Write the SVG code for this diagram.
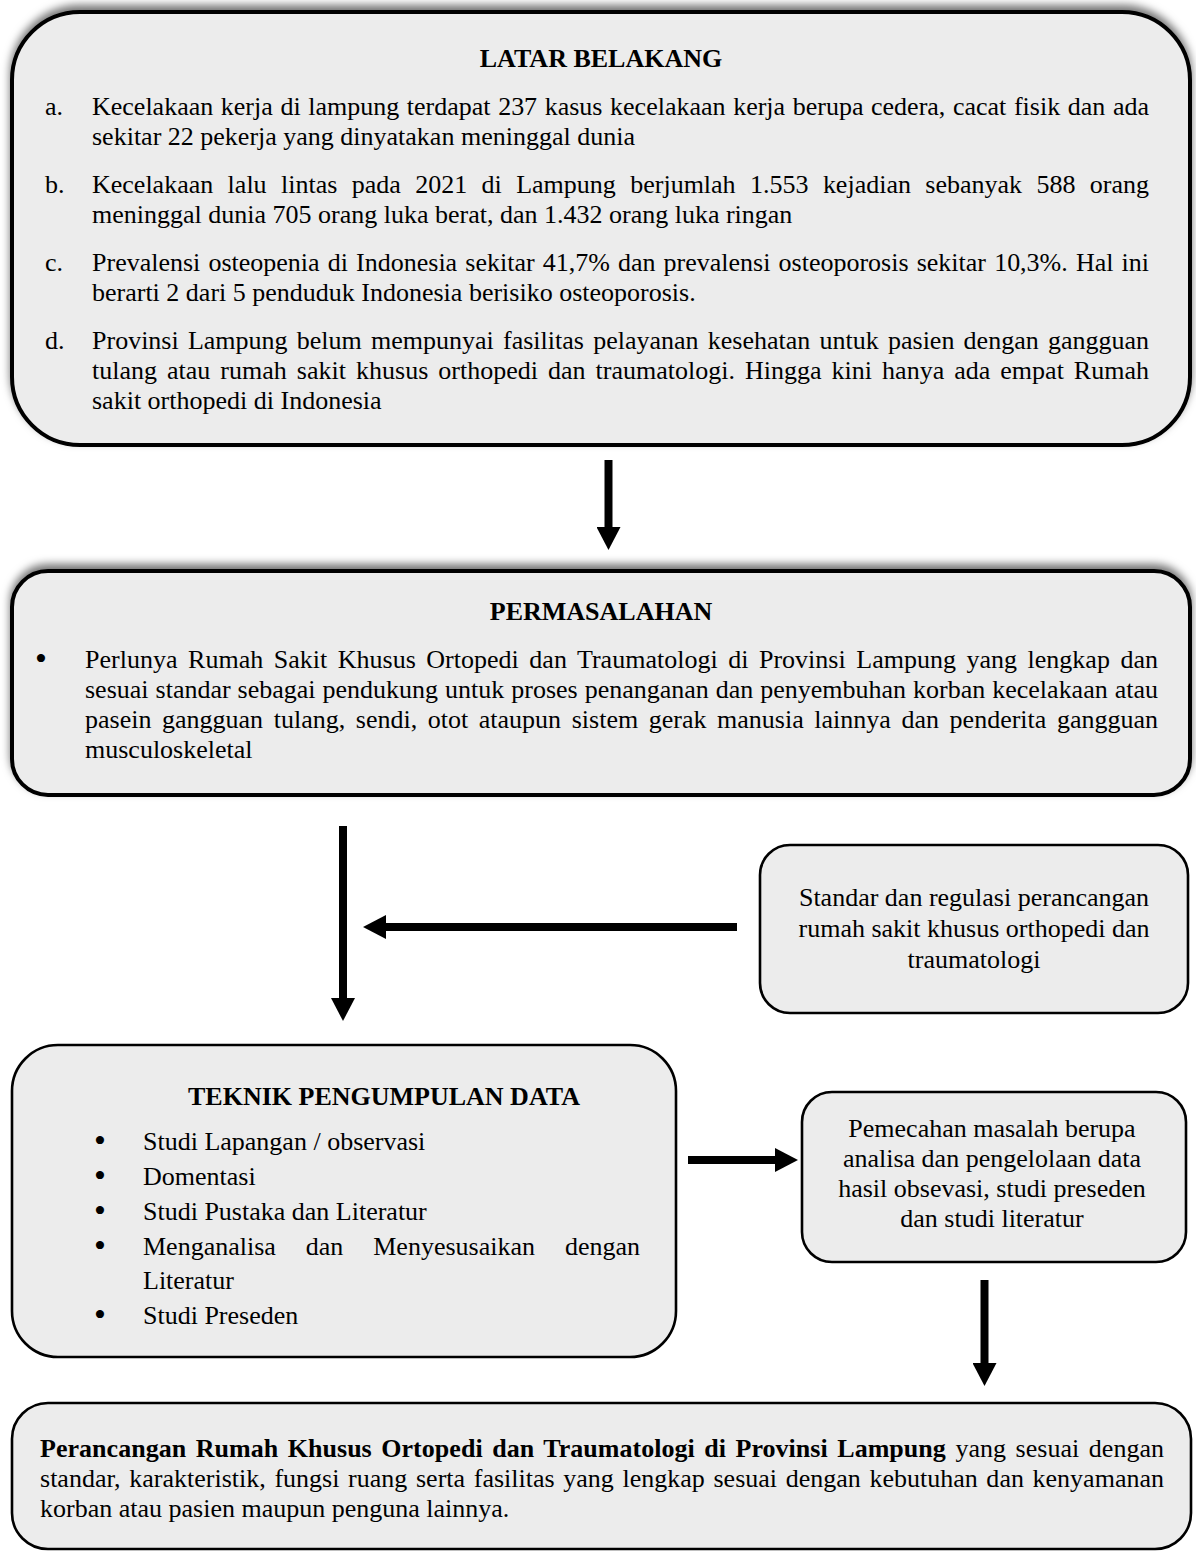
<svg xmlns="http://www.w3.org/2000/svg" width="1196" height="1553" viewBox="0 0 1196 1553">
  <style>
    .box { fill: #ececec; stroke: #000; }
    .heavy { stroke-width: 4; }
    .light { stroke-width: 2.6; }
    .t { font-family: "Liberation Serif", "Times New Roman", serif; font-size: 26px; fill: #000; }
    .b { font-weight: bold; }
    .c { text-anchor: middle; }
    .dot { font-family: "Liberation Serif", "Times New Roman", serif; font-size: 34px; fill: #000; text-anchor: middle; }
    .arrow { stroke: #000; stroke-width: 8; fill: none; }
  </style>
  <defs>
    <filter id="topShadow" x="-5%" y="-10%" width="110%" height="120%">
      <feDropShadow dx="0" dy="-5" stdDeviation="4" flood-color="#000" flood-opacity="0.55"/>
    </filter>
    <marker id="head" viewBox="0 0 23 24" refX="0" refY="12" markerWidth="23" markerHeight="24" markerUnits="userSpaceOnUse" orient="auto">
      <path d="M0,0 L23,12 L0,24 Z" fill="#000"/>
    </marker>
  </defs>

  <!-- Latar belakang -->
  <g id="latar-belakang">
    <rect class="box heavy" x="12" y="12" width="1178" height="433" rx="68" ry="68" filter="url(#topShadow)"/>
    <text class="t b c" x="601" y="67">LATAR BELAKANG</text>
    <text class="t" x="45" y="115">a.</text>
    <text class="t" x="92" y="115" word-spacing="1.1" textLength="1057" lengthAdjust="spacing">Kecelakaan kerja di lampung terdapat 237 kasus kecelakaan kerja berupa cedera, cacat fisik dan ada</text>
    <text class="t" x="92" y="145">sekitar 22 pekerja yang dinyatakan meninggal dunia</text>
    <text class="t" x="45" y="193">b.</text>
    <text class="t" x="92" y="193" word-spacing="7.9" textLength="1057" lengthAdjust="spacing">Kecelakaan lalu lintas pada 2021 di Lampung berjumlah 1.553 kejadian sebanyak 588 orang</text>
    <text class="t" x="92" y="223">meninggal dunia 705 orang luka berat, dan 1.432 orang luka ringan</text>
    <text class="t" x="45" y="271">c.</text>
    <text class="t" x="92" y="271" word-spacing="1.6" textLength="1057" lengthAdjust="spacing">Prevalensi osteopenia di Indonesia sekitar 41,7% dan prevalensi osteoporosis sekitar 10,3%. Hal ini</text>
    <text class="t" x="92" y="301">berarti 2 dari 5 penduduk Indonesia berisiko osteoporosis.</text>
    <text class="t" x="45" y="349">d.</text>
    <text class="t" x="92" y="349" word-spacing="2.7" textLength="1057" lengthAdjust="spacing">Provinsi Lampung belum mempunyai fasilitas pelayanan kesehatan untuk pasien dengan gangguan</text>
    <text class="t" x="92" y="379" word-spacing="3.5" textLength="1057" lengthAdjust="spacing">tulang atau rumah sakit khusus orthopedi dan traumatologi. Hingga kini hanya ada empat Rumah</text>
    <text class="t" x="92" y="409">sakit orthopedi di Indonesia</text>
  </g>

  <!-- Permasalahan -->
  <g id="permasalahan">
    <rect class="box heavy" x="12" y="571" width="1178" height="224" rx="36" ry="36" filter="url(#topShadow)"/>
    <text class="t b c" x="601" y="620">PERMASALAHAN</text>
    <text class="dot" x="41" y="670">•</text>
    <text class="t" x="85" y="668" word-spacing="4.0" textLength="1073" lengthAdjust="spacing">Perlunya Rumah Sakit Khusus Ortopedi dan Traumatologi di Provinsi Lampung yang lengkap dan</text>
    <text class="t" x="85" y="698" word-spacing="0.5" textLength="1073" lengthAdjust="spacing">sesuai standar sebagai pendukung untuk proses penanganan dan penyembuhan korban kecelakaan atau</text>
    <text class="t" x="85" y="728" word-spacing="4.1" textLength="1073" lengthAdjust="spacing">pasein gangguan tulang, sendi, otot ataupun sistem gerak manusia lainnya dan penderita gangguan</text>
    <text class="t" x="85" y="758">musculoskeletal</text>
  </g>

  <!-- Standar dan regulasi -->
  <g id="standar-regulasi">
    <rect class="box light" x="760" y="845" width="428" height="168" rx="30" ry="30"/>
    <text class="t c" x="974" y="906">Standar dan regulasi perancangan</text>
    <text class="t c" x="974" y="937">rumah sakit khusus orthopedi dan</text>
    <text class="t c" x="974" y="968">traumatologi</text>
  </g>

  <!-- Teknik pengumpulan data -->
  <g id="teknik-pengumpulan-data">
    <rect class="box light" x="12" y="1045" width="664" height="312" rx="46" ry="46"/>
    <text class="t b" x="188" y="1105">TEKNIK PENGUMPULAN DATA</text>
    <text class="dot" x="100" y="1152">•</text>
    <text class="t" x="143" y="1150">Studi Lapangan / observasi</text>
    <text class="dot" x="100" y="1187">•</text>
    <text class="t" x="143" y="1185">Domentasi</text>
    <text class="dot" x="100" y="1222">•</text>
    <text class="t" x="143" y="1220">Studi Pustaka dan Literatur</text>
    <text class="dot" x="100" y="1257">•</text>
    <text class="t" x="143" y="1255" word-spacing="23.4" textLength="497" lengthAdjust="spacing">Menganalisa dan Menyesusaikan dengan</text>
    <text class="t" x="143" y="1289">Literatur</text>
    <text class="dot" x="100" y="1326">•</text>
    <text class="t" x="143" y="1324">Studi Preseden</text>
  </g>

  <!-- Pemecahan masalah -->
  <g id="pemecahan-masalah">
    <rect class="box light" x="802" y="1092" width="384" height="170" rx="30" ry="30"/>
    <text class="t c" x="992" y="1137">Pemecahan masalah berupa</text>
    <text class="t c" x="992" y="1167">analisa dan pengelolaan data</text>
    <text class="t c" x="992" y="1197">hasil obsevasi, studi preseden</text>
    <text class="t c" x="992" y="1227">dan studi literatur</text>
  </g>

  <!-- Perancangan -->
  <g id="perancangan">
    <rect class="box light" x="12" y="1403" width="1179" height="146" rx="36" ry="36"/>
    <text class="t" x="40" y="1457" word-spacing="3.0" textLength="1124" lengthAdjust="spacing"><tspan class="b">Perancangan Rumah Khusus Ortopedi dan Traumatologi di Provinsi Lampung</tspan> yang sesuai dengan</text>
    <text class="t" x="40" y="1487" word-spacing="2.1" textLength="1124" lengthAdjust="spacing">standar, karakteristik, fungsi ruang serta fasilitas yang lengkap sesuai dengan kebutuhan dan kenyamanan</text>
    <text class="t" x="40" y="1517">korban atau pasien maupun penguna lainnya.</text>
  </g>

  <!-- Connectors -->
  <g id="connectors">
    <line class="arrow" x1="608.5" y1="460" x2="608.5" y2="527" marker-end="url(#head)"/>
    <line class="arrow" x1="343" y1="826" x2="343" y2="998" marker-end="url(#head)"/>
    <line class="arrow" x1="737" y1="927" x2="386" y2="927" marker-end="url(#head)"/>
    <line class="arrow" x1="688" y1="1160" x2="775" y2="1160" marker-end="url(#head)"/>
    <line class="arrow" x1="984.5" y1="1280" x2="984.5" y2="1363" marker-end="url(#head)"/>
  </g>
</svg>
